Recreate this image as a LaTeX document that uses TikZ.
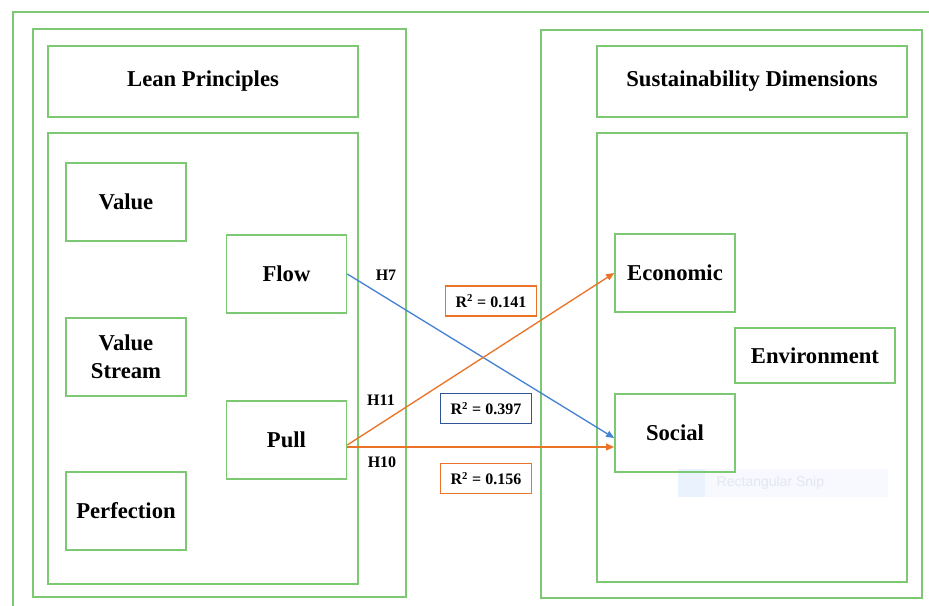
\documentclass[tikz,border=0pt]{standalone}
\usepackage{fontspec}
\setmainfont{Liberation Serif}
\setsansfont{Liberation Sans}
\usetikzlibrary{arrows.meta}

\definecolor{boxgreen}{RGB}{125,200,115}
\definecolor{linkblue}{RGB}{70,130,210}
\definecolor{linkorange}{RGB}{235,115,40}
\definecolor{rblue}{RGB}{47,85,151}
\definecolor{snipbg}{RGB}{247,249,255}
\definecolor{snipicon}{RGB}{234,242,253}
\definecolor{sniptext}{RGB}{228,231,238}

\tikzset{
  frame/.style={draw=boxgreen, line width=1.2pt},
  item/.style={frame, minimum width=90pt, minimum height=58.5pt, align=center,
    font=\fontsize{17}{21}\selectfont\bfseries},
  title/.style={item, minimum width=232.5pt, minimum height=53.25pt},
  hyp/.style={font=\fontsize{12}{14}\selectfont\bfseries},
  rsq/.style={hyp, draw, line width=0.9pt, minimum width=68pt, minimum height=22.5pt},
  link/.style={line width=1pt, -{Triangle[length=6pt,width=5pt]}}
}

\begin{document}
\begin{tikzpicture}[x=0.75pt,y=-0.75pt]
    \useasboundingbox (0,0) rectangle (929,606);
    \clip (0,0) rectangle (929,606);

    % frames
    \draw[frame] (13,12) rectangle (960,640);
    \draw[frame] (33,29) rectangle (406,597);
    \draw[frame] (48,133) rectangle (358,584);
    \draw[frame] (541,30) rectangle (922,598);
    \draw[frame] (597,133) rectangle (907,582);

    % snip tool leftover
    \fill[snipbg] (678,469) rectangle (888,497);
    \fill[snipicon] (678,469) rectangle (705,497);
    \node[font=\sffamily\fontsize{10.5}{12}\selectfont, text=sniptext, anchor=west] (snip) at (712,483) {Rectangular Snip};

    % lean side
    \node[title] (lean) at (203,81.5) {Lean Principles};
    \node[item] (value) at (126,202) {Value};
    \node[item] (stream) at (126,357) {Value\\Stream};
    \node[item] (perfection) at (126,511) {Perfection};
    \node[item] (flow) at (286.5,274) {Flow};
    \node[item] (pull) at (286.5,440) {Pull};

    % sustainability side
    \node[title] (sust) at (752,81.5) {Sustainability Dimensions};
    \node[item] (economic) at (675,273) {Economic};
    \node[item] (social) at (675,433) {Social};
    \node[item, minimum width=120pt, minimum height=41.25pt] (environment) at (815,355.5) {Environment};

    % paths
    \draw[link, linkblue] (flow.east) -- ([yshift=-3.75pt]social.west);
    \draw[link, linkorange] ([yshift=-3.75pt]pull.east) -- (economic.west);
    \draw[link, linkorange] ([yshift=-5.25pt]pull.east) -- ([yshift=-10.5pt]social.west);

    \node[hyp] (h7) at (386,275) {H7};
    \node[hyp] (h11) at (381,400) {H11};
    \node[hyp] (h10) at (382,462) {H10};

    \node[rsq, draw=linkorange] (r1) at (491,301) {R\textsuperscript{2} = 0.141};
    \node[rsq, draw=rblue] (r2) at (486,408.5) {R\textsuperscript{2} = 0.397};
    \node[rsq, draw=linkorange] (r3) at (486,478.5) {R\textsuperscript{2} = 0.156};
\end{tikzpicture}
\end{document}
